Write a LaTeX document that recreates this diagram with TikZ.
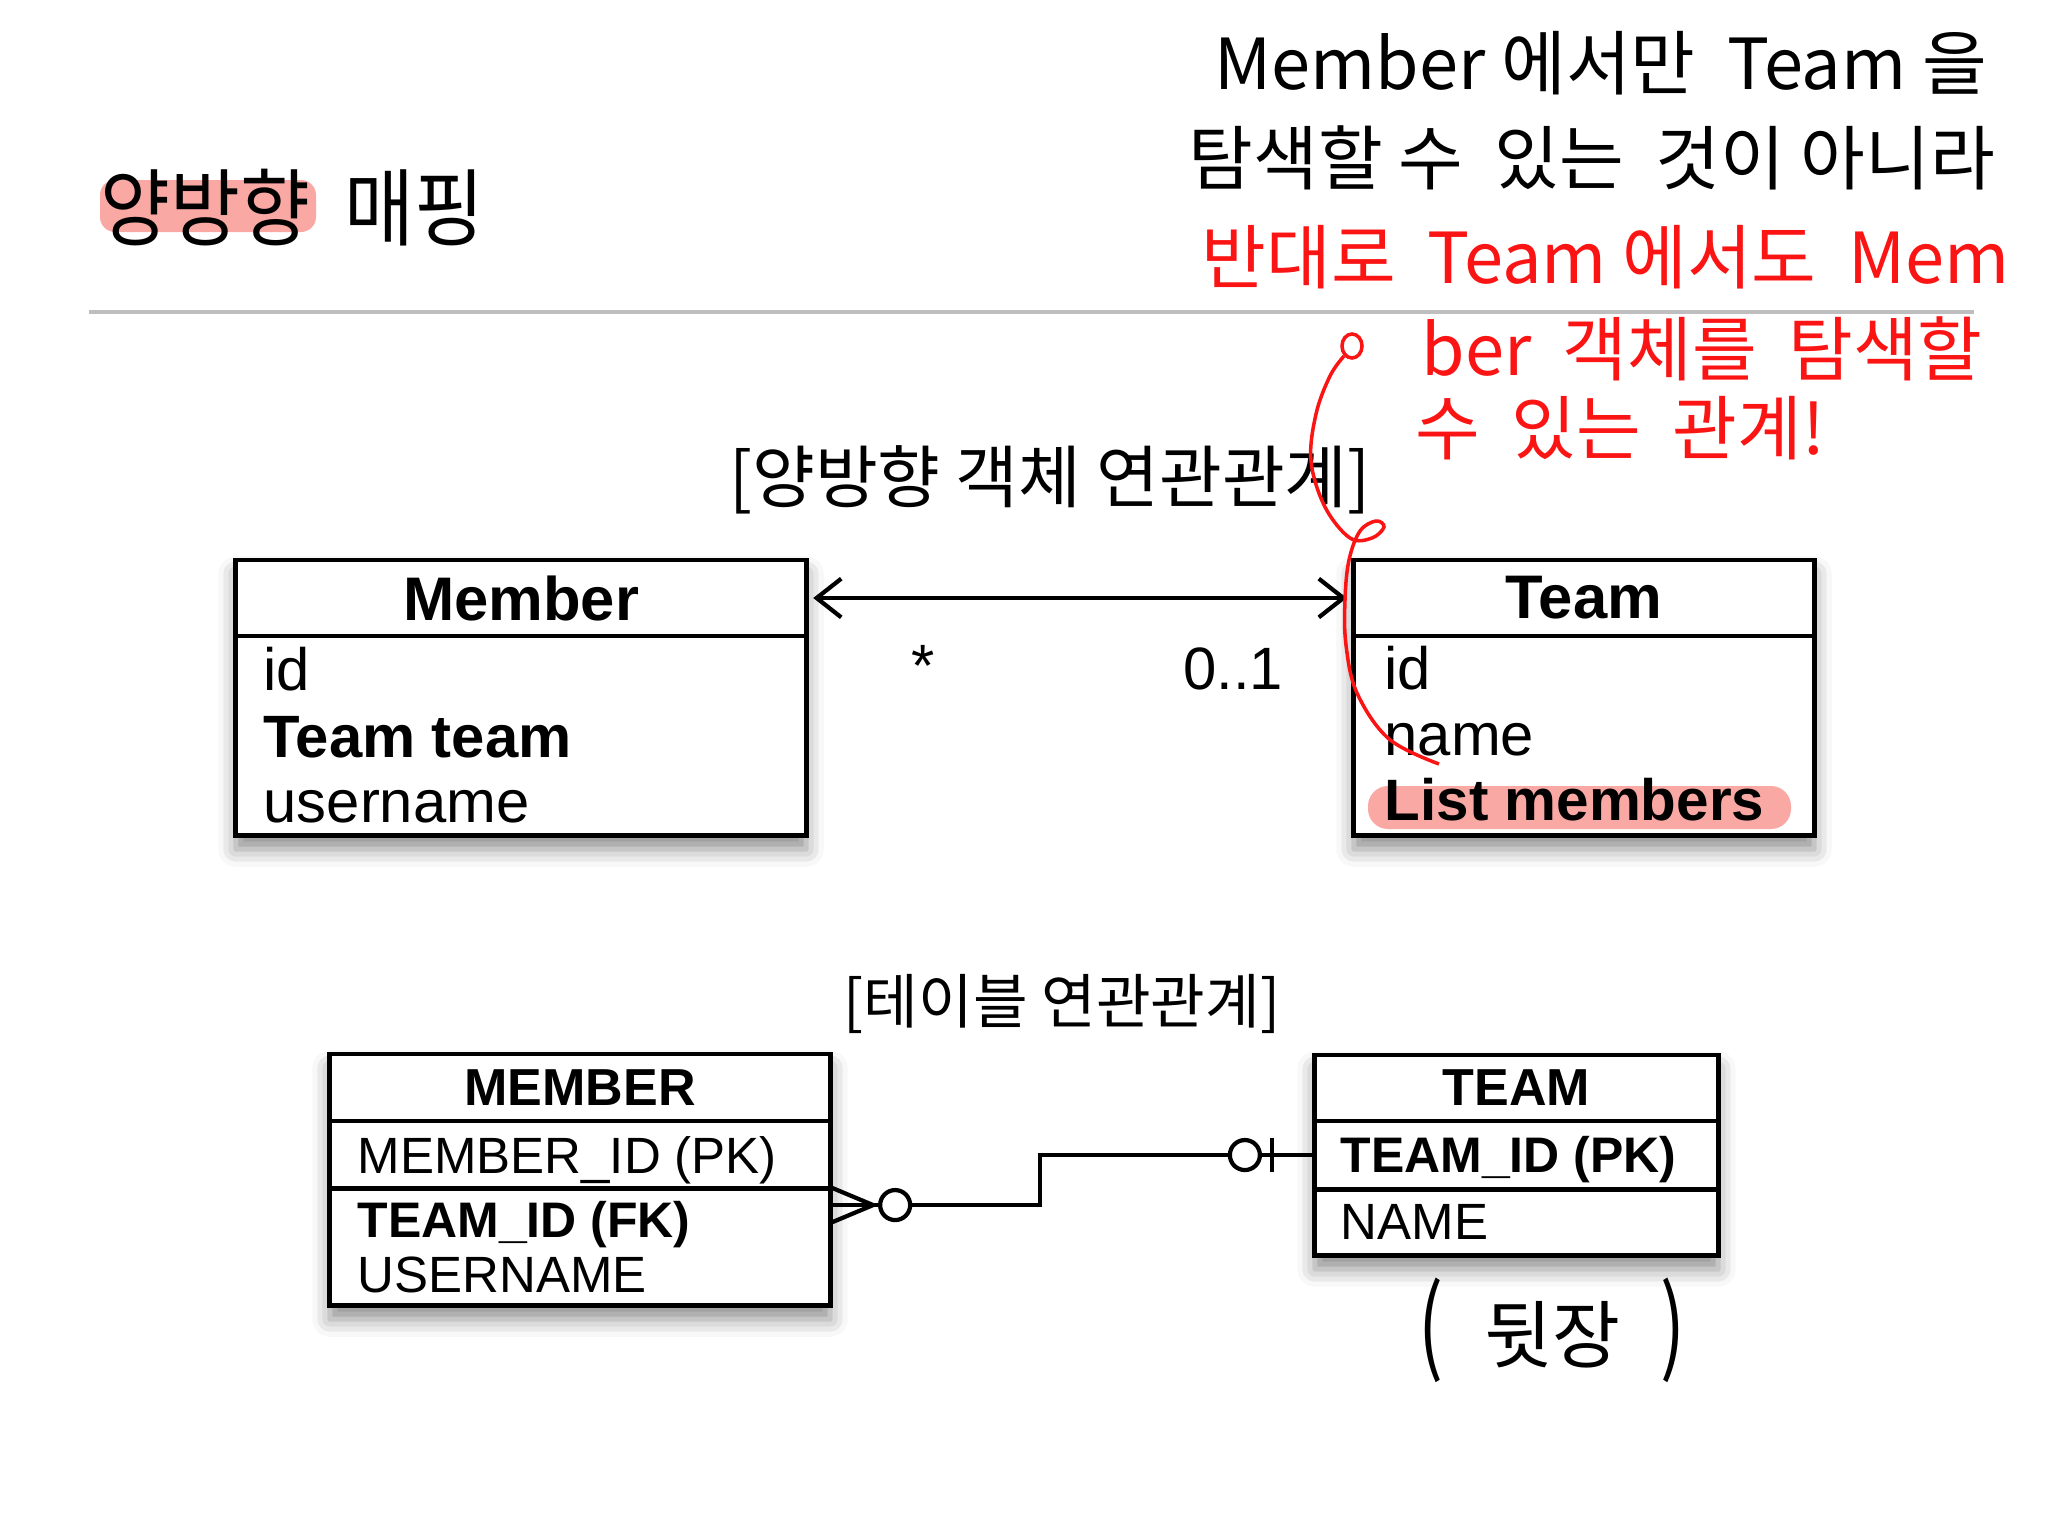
\documentclass[tikz,border=0pt]{standalone}
\usepackage{fontspec}
\setmainfont{Liberation Sans}
\newfontfamily\kr{Noto Sans CJK KR}
\usepackage{tikz}
\usetikzlibrary{calc,arrows.meta,shadows.blur}
\definecolor{markpink}{RGB}{250,168,164}
\definecolor{rulegray}{RGB}{190,190,190}
\definecolor{penred}{RGB}{250,20,20}

\begin{document}
\begin{tikzpicture}[x=0.01cm,y=-0.01cm,
  box/.style={draw,line width=1.4pt,fill=white,inner sep=0pt,outer sep=0pt},
  back/.style={fill=white,inner sep=0pt,blur shadow={shadow xshift=0pt,shadow yshift=-4pt,shadow blur radius=5pt,shadow opacity=45}},
  hdr/.style={font=\bfseries\fontsize{17.5}{21}\selectfont},
  thdr/.style={font=\bfseries\fontsize{14.8}{18}\selectfont},
  fld/.style={anchor=base west,inner sep=0pt,font=\fontsize{17}{20}\selectfont},
  col/.style={anchor=base west,inner sep=0pt,font=\fontsize{14.5}{18}\selectfont},
  bcol/.style={col,font=\bfseries\fontsize{14.2}{18}\selectfont},
  conn/.style={line width=1.2pt},
  erc/.style={circle,draw,fill=white,line width=1.2pt,minimum size=0.3cm,inner sep=0pt},
  hand/.style={anchor=west,inner sep=0pt,font=\kr\fontsize{20}{24}\selectfont},
  ]
\useasboundingbox (0,0) rectangle (2048,1536);

% title
\fill[markpink,rounded corners=0.15cm] (100,180) rectangle (316,232);
\node[anchor=west,inner sep=0pt,font=\kr\fontsize{24}{28}\selectfont] (title) at (100,208) {\scalebox{0.9}[1]{양방향\hspace{0.45em}매핑}};
\draw[rulegray,line width=1pt] (89,312) -- (1974,312);

% object diagram
\node[font=\kr\fontsize{19.4}{23}\selectfont] (objtitle) at (1050,480) {[양방향 객체 연관관계]};

\node[back,minimum width=5.7cm,minimum height=2.75cm] (memberbg) at (521,697.5) {};
\node[box,hdr,minimum width=5.7cm,minimum height=0.76cm] (memberhead) at (521,598) {\raisebox{-0.5ex}{Member}};
\node[box,minimum width=5.7cm,minimum height=1.99cm,anchor=north] (memberbody) at (memberhead.south) {};
\node[fld] (mid) at (263,690) {id};
\node[fld,font=\bfseries\fontsize{17}{20}\selectfont] (mteam) at (263,757) {Team team};
\node[fld] (muser) at (263,822) {username};

\node[back,minimum width=4.6cm,minimum height=2.75cm] (teambg) at (1584,697.5) {};
\node[box,hdr,minimum width=4.6cm,minimum height=0.76cm] (teamhead) at (1584,598) {\raisebox{-0.5ex}{Team}};
\node[box,minimum width=4.6cm,minimum height=1.99cm,anchor=north] (teambody) at (teamhead.south) {};
\fill[markpink,rounded corners=0.2cm] (1368,786) rectangle (1791,829);
\node[fld] (tid) at (1384,689) {id};
\node[fld] (tname) at (1384,755) {name};
\node[fld,font=\bfseries\fontsize{16.6}{20}\selectfont] (tlist) at (1384,820) {List members};

\draw[line width=1.2pt,{Straight Barb[length=7pt,width=11pt]}-{Straight Barb[length=7pt,width=11pt]},shorten <=2pt,shorten >=2pt] (memberhead.east) -- (teamhead.west);
\node[anchor=base,inner sep=0pt,font=\fontsize{17}{20}\selectfont] (many) at (923,686) {*};
\node[anchor=base,inner sep=0pt,font=\fontsize{17}{20}\selectfont] (one) at (1233,689) {0..1};

% table diagram
\node[font=\kr\fontsize{16.9}{20}\selectfont] (tabtitle) at (1062,1004) {[테이블 연관관계]};

\node[back,minimum width=5cm,minimum height=2.51cm] (mtbg) at (580,1179.5) {};
\node[box,thdr,minimum width=5cm,minimum height=0.67cm] (mthead) at (580,1087.5) {\raisebox{-0.4ex}{MEMBER}};
\node[box,minimum width=5cm,minimum height=0.67cm,anchor=north] (mtpk) at (mthead.south) {};
\node[box,minimum width=5cm,minimum height=1.17cm,anchor=north] (mtfk) at (mtpk.south) {};
\node[col] (mcolid) at (357,1173) {MEMBER\_ID (PK)};
\node[bcol] (mcolfk) at (357,1237) {TEAM\_ID (FK)};
\node[col] (mcoluser) at (357,1292) {USERNAME};

\node[back,minimum width=4.03cm,minimum height=2cm] (ttbg) at (1516.5,1155) {};
\node[box,thdr,minimum width=4.03cm,minimum height=0.66cm] (tthead) at (1516.5,1088) {\raisebox{-0.4ex}{TEAM}};
\node[box,minimum width=4.03cm,minimum height=0.68cm,anchor=north] (ttpk) at (tthead.south) {};
\node[box,minimum width=4.03cm,minimum height=0.66cm,anchor=north] (ttname) at (ttpk.south) {};
\node[bcol] (tcolid) at (1340,1172) {TEAM\_ID (PK)};
\node[col] (tcolname) at (1340,1239) {NAME};

% crow's foot -- zero or one
\coordinate (fk) at ($(mtfk.north east)+(0,17)$);
\coordinate (pk) at (ttpk.west);
\coordinate (crow) at ($(fk)+(43,0)$);
\draw[conn] ($(fk)+(0,-18)$) -- (crow) -- ($(fk)+(0,18)$);
\draw[conn] (fk) -- (crow);
\draw[conn] (crow) -- ($(fk)+(210,0)$) |- (pk);
\node[erc] (fkring) at ($(fk)+(65,0)$) {};
\node[erc] (pkring) at ($(pk)+(-70,0)$) {};
\draw[conn] ($(pk)+(-43,-17)$) -- ($(pk)+(-43,17)$);

% handwritten notes
\node[hand] (note1) at (1214,63) {Member 에서만~~Team 을};
\node[hand] (note2) at (1188,158) {탐색할 수~~있는~~것이 아니라};
\node[hand,penred] (note3) at (1201,257) {반대로~~Team 에서도~~Mem};
\node[hand,penred] (note4) at (1421,349) {ber~~객체를~~탐색할};
\node[hand,penred] (note5) at (1415,428) {수~~있는~~관계!};
\draw[penred,line width=1pt] (1352,346) ellipse [x radius=0.1cm,y radius=0.12cm];
\draw[penred,line width=1pt] plot[smooth,tension=0.6] coordinates {(1344,356) (1330,376) (1316,414) (1311,461) (1325,507) (1350,538) (1372,538) (1384,527) (1376,521) (1360,531) (1349,560) (1345,600) (1346,645) (1357,693) (1389,739) (1439,764)};
\node[font=\kr\fontsize{21}{24}\selectfont] (nextpage) at (1552,1330) {\scalebox{1}[1.4]{(}\hspace{0.55em}뒷장\hspace{0.55em}\scalebox{1}[1.4]{)}};

\end{tikzpicture}
\end{document}
